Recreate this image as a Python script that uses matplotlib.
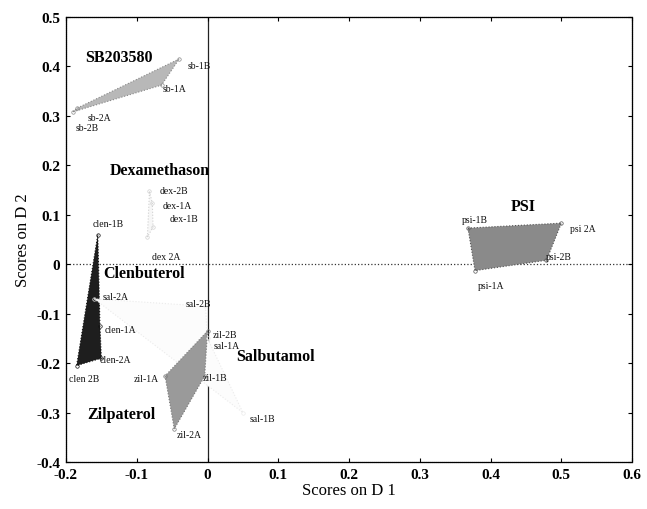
import matplotlib
matplotlib.use("Agg")
import matplotlib.pyplot as plt
from matplotlib.patches import Polygon

plt.rcParams['font.family'] = ['Liberation Serif', 'DejaVu Serif']

# ---- data ----
groups = ["SB203580", "Dexamethason", "Clenbuterol", "Salbutamol", "Zilpaterol", "PSI"]

sb_labels = ["sb-2B", "sb-2A", "sb-1B", "sb-1A"]
sb_x = [-0.190, -0.185, -0.040, -0.065]
sb_y = [0.308, 0.315, 0.415, 0.362]

dex_labels = ["dex-2B", "dex-1A", "dex-1B", "dex 2A"]
dex_x = [-0.082, -0.078, -0.077, -0.085]
dex_y = [0.147, 0.123, 0.075, 0.055]

clen_labels = ["clen-1B", "clen-1A", "clen-2A", "clen 2B"]
clen_x = [-0.155, -0.152, -0.150, -0.185]
clen_y = [0.060, -0.125, -0.190, -0.205]

sal_labels = ["sal-2A", "sal-2B", "sal-1A", "sal-1B"]
sal_x = [-0.160, -0.003, 0.000, 0.050]
sal_y = [-0.070, -0.085, -0.150, -0.300]

zil_labels = ["zil-2B", "zil-1B", "zil-2A", "zil-1A"]
zil_x = [0.000, -0.004, -0.047, -0.060]
zil_y = [-0.135, -0.226, -0.333, -0.226]

psi_labels = ["psi-1B", "psi 2A", "psi-2B", "psi-1A"]
psi_x = [0.368, 0.500, 0.479, 0.378]
psi_y = [0.073, 0.083, 0.008, -0.013]

x_ticks = [-0.2, -0.1, 0, 0.1, 0.2, 0.3, 0.4, 0.5, 0.6]
y_ticks = [-0.4, -0.3, -0.2, -0.1, 0, 0.1, 0.2, 0.3, 0.4, 0.5]

# ---- styling (positions for annotations) ----
fills = {
    "SB203580": "#b8b8b8",
    "Dexamethason": "#f7f7f7",
    "Clenbuterol": "#1e1e1e",
    "Salbutamol": "#fcfcfc",
    "Zilpaterol": "#9a9a9a",
    "PSI": "#8a8a8a",
}
edges = {
    "SB203580": "#888888",
    "Dexamethason": "#d0d0d0",
    "Clenbuterol": "#111111",
    "Salbutamol": "#ebebeb",
    "Zilpaterol": "#777777",
    "PSI": "#555555",
}
group_text_pos = {
    "SB203580": (-0.173, 0.418),
    "Dexamethason": (-0.138, 0.19),
    "Clenbuterol": (-0.148, -0.018),
    "Salbutamol": (0.040, -0.186),
    "Zilpaterol": (-0.170, -0.303),
    "PSI": (0.428, 0.117),
}
point_text_pos = {
    "sb-1B": (-0.028, 0.402), "sb-1A": (-0.063, 0.355), "sb-2A": (-0.170, 0.297), "sb-2B": (-0.186, 0.276),
    "dex-2B": (-0.067, 0.149), "dex-1A": (-0.063, 0.119), "dex-1B": (-0.053, 0.093), "dex 2A": (-0.079, 0.016),
    "clen-1B": (-0.162, 0.083), "clen-1A": (-0.146, -0.133), "clen-2A": (-0.152, -0.192), "clen 2B": (-0.196, -0.232),
    "sal-2A": (-0.148, -0.065), "sal-2B": (-0.031, -0.079), "sal-1A": (0.009, -0.165), "sal-1B": (0.060, -0.311),
    "zil-2B": (0.008, -0.143), "zil-1B": (-0.007, -0.230), "zil-2A": (-0.043, -0.345), "zil-1A": (-0.105, -0.232),
    "psi-1B": (0.359, 0.091), "psi 2A": (0.512, 0.073), "psi-2B": (0.478, 0.016), "psi-1A": (0.382, -0.044),
}

data = {
    "SB203580": (sb_labels, sb_x, sb_y),
    "Dexamethason": (dex_labels, dex_x, dex_y),
    "Clenbuterol": (clen_labels, clen_x, clen_y),
    "Salbutamol": (sal_labels, sal_x, sal_y),
    "Zilpaterol": (zil_labels, zil_x, zil_y),
    "PSI": (psi_labels, psi_x, psi_y),
}

fig = plt.figure(figsize=(6.47, 5.10), dpi=100)
ax = fig.add_axes([0.102, 0.092, 0.875, 0.873])

for g in groups:
    labs, xs, ys = data[g]
    poly = Polygon(list(zip(xs, ys)), closed=True, facecolor=fills[g],
                   edgecolor=edges[g], linewidth=0.8, linestyle=':', zorder=2)
    ax.add_patch(poly)
    ax.plot(xs, ys, 'o', ms=2.5, mfc='none', mec=edges[g], mew=0.5, zorder=3)
    for lab in labs:
        tx, ty = point_text_pos[lab]
        ax.text(tx, ty, lab, fontsize=7, ha='left', va='center', color='#111111', zorder=4)
    gx, gy = group_text_pos[g]
    ax.text(gx, gy, g, fontsize=11.5, fontweight='bold', ha='left', va='center', color='black', zorder=4)

ax.axhline(0, color='#333333', linestyle=':', linewidth=0.9, zorder=1)
ax.axvline(0, color='#222222', linestyle='-', linewidth=0.9, zorder=1)

ax.set_xlim(-0.2, 0.6)
ax.set_ylim(-0.4, 0.5)
ax.set_xticks(x_ticks)
ax.set_yticks(y_ticks)
ax.set_xticklabels([f"{t:g}" for t in x_ticks], fontsize=11, fontweight='bold')
ax.set_yticklabels([f"{t:g}" for t in y_ticks], fontsize=11, fontweight='bold')
ax.tick_params(direction='in', length=3, width=0.8, top=True, right=True, pad=4)
for s in ax.spines.values():
    s.set_linewidth(0.9)
    s.set_linestyle((0, (1, 0.6)))
ax.set_xlabel("Scores on D 1", fontsize=12, labelpad=1)
ax.set_ylabel("Scores on D 2", fontsize=12, labelpad=4)

fig.savefig("out.png", dpi=100)
